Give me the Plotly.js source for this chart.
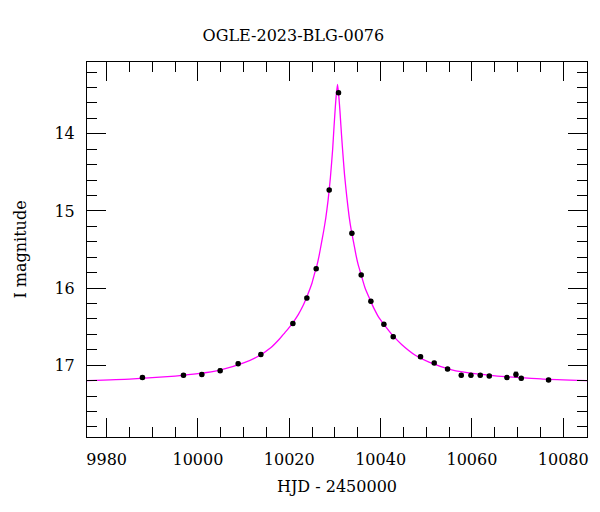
<!DOCTYPE html>
<html>
<head>
<meta charset="utf-8">
<script src="https://cdn.plot.ly/plotly-3.0.1.min.js"></script>
<style>html,body{margin:0;padding:0;background:#fff;}#chart{width:600px;height:512px;}</style>
</head>
<body>
<div id="chart"></div>
<script>
// Observed OGLE photometry (HJD - 2450000, I mag)
const obsTime = [9987.84, 9996.83, 10000.85, 10004.86, 10008.80, 10013.78, 10020.79, 10023.85, 10025.89, 10028.74, 10030.78, 10033.71, 10035.75, 10037.87, 10040.72, 10042.76, 10048.74, 10051.74, 10054.66, 10057.66, 10059.78, 10061.82, 10063.79, 10067.67, 10069.64, 10070.80, 10076.78];
const obsMag  = [17.16, 17.13, 17.12, 17.07, 16.98, 16.86, 16.46, 16.13, 15.75, 14.73, 13.47, 15.29, 15.83, 16.17, 16.47, 16.63, 16.89, 16.97, 17.05, 17.13, 17.13, 17.13, 17.14, 17.16, 17.12, 17.17, 17.19];
const obsErr  = [0.02, 0.02, 0.02, 0.02, 0.02, 0.02, 0.02, 0.02, 0.02, 0.02, 0.02, 0.02, 0.02, 0.02, 0.02, 0.02, 0.02, 0.02, 0.02, 0.02, 0.02, 0.02, 0.02, 0.02, 0.03, 0.02, 0.02];

// Model curve
const modelTime = [9975, 9985, 9990, 9995, 10000, 10005, 10010, 10013, 10016, 10018, 10019, 10020, 10021, 10022, 10023, 10024, 10025, 10025.5, 10026, 10026.5, 10027, 10027.5, 10028, 10028.5, 10029, 10029.5, 10029.8, 10030.1, 10030.3, 10030.56, 10030.8, 10031.1, 10031.3, 10031.6, 10032.1, 10032.6, 10033.1, 10033.6, 10034.1, 10034.6, 10035.1, 10035.6, 10036.6, 10037.6, 10038.6, 10039.6, 10040.6, 10042.6, 10044.6, 10047.6, 10050.6, 10055.6, 10060.6, 10065.6, 10070.6, 10075.6, 10086];
const modelMag  = [17.20, 17.18, 17.16, 17.14, 17.11, 17.06, 16.97, 16.89, 16.77, 16.65, 16.58, 16.51, 16.43, 16.34, 16.23, 16.09, 15.93, 15.82, 15.72, 15.59, 15.43, 15.27, 15.09, 14.86, 14.57, 14.20, 13.91, 13.64, 13.49, 13.36, 13.48, 13.71, 13.89, 14.15, 14.53, 14.82, 15.07, 15.26, 15.41, 15.57, 15.70, 15.80, 16.00, 16.14, 16.27, 16.38, 16.46, 16.61, 16.73, 16.87, 16.96, 17.06, 17.11, 17.14, 17.16, 17.18, 17.20];

const xTicks = [9980, 10000, 10020, 10040, 10060, 10080];
const yTicks = [14, 15, 16, 17];

const font = 'DejaVu Serif, Liberation Serif, serif';

const traces = [
  {x: modelTime, y: modelMag, type: 'scatter', mode: 'lines',
   line: {color: '#ff00ff', width: 1.3, shape: 'spline', smoothing: 0.5}, hoverinfo: 'skip'},
  {x: obsTime, y: obsMag, type: 'scatter', mode: 'markers',
   marker: {color: '#000', size: 5.5},
   error_y: {type: 'data', array: obsErr, visible: true, color: '#000', thickness: 1, width: 2}}
];

const axisCommon = {
  showgrid: false, zeroline: false, showline: true, linecolor: '#000', linewidth: 1,
  mirror: 'allticks', ticks: 'inside', ticklen: 19, tickwidth: 1, tickcolor: '#000',
  tickfont: {family: font, size: 16, color: '#000'}
};

const layout = {
  width: 600, height: 512,
  margin: {l: 87, r: 13, t: 62, b: 75},
  paper_bgcolor: '#fff', plot_bgcolor: '#fff',
  showlegend: false,
  font: {family: font, color: '#000'},
  title: {text: 'OGLE-2023-BLG-0076', font: {family: font, size: 16, color: '#000'},
          x: 0.489, xref: 'container', xanchor: 'center', y: 0.93, yref: 'container', yanchor: 'middle'},
  xaxis: Object.assign({}, axisCommon, {
    range: [9975.7, 10085.2], tickvals: xTicks, ticktext: xTicks.map(String),
    ticklabelstandoff: 8,
    minor: {dtick: 5, tick0: 9980, ticklen: 10, tickcolor: '#000', ticks: 'inside'},
    title: {text: 'HJD - 2450000', font: {family: font, size: 16, color: '#000'}, standoff: 12}
  }),
  yaxis: Object.assign({}, axisCommon, {
    range: [17.93, 13.07], tickvals: yTicks, ticktext: yTicks.map(String),
    ticklabelstandoff: 8,
    minor: {dtick: 0.2, tick0: 13, ticklen: 10, tickcolor: '#000', ticks: 'inside'},
    title: {text: 'I magnitude', font: {family: font, size: 16, color: '#000'}, standoff: 23}
  })
};

Plotly.newPlot('chart', traces, layout, {displayModeBar: false, staticPlot: true});
</script>
</body>
</html>
